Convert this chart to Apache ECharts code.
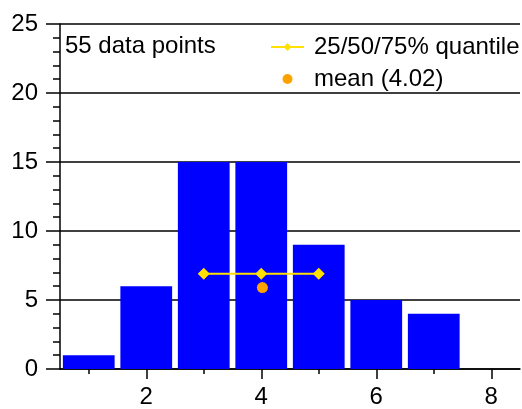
<!DOCTYPE html>
<html>
<head>
<meta charset="utf-8">
<script src="https://cdn.jsdelivr.net/npm/echarts@6/dist/echarts.min.js"></script>
<style>
  html, body { margin: 0; padding: 0; background: #fff; }
  #chart { width: 522px; height: 409px; }
</style>
</head>
<body>
<div id="chart"></div>
<script>
// Histogram bins (bin centres) and counts
const binCenters = ['1', '2', '3', '4', '5', '6', '7', '8'];
const counts = [1, 6, 15, 15, 9, 5, 4, 0];

// Summary statistics drawn over the histogram
const quantileX = [3, 4, 5];          // 25 / 50 / 75 % quantiles
const quantileLevel = 6.9;            // height at which the quantile bar sits
const meanValue = 4.02;
const meanLevel = 5.9;

const pointsLabel = '55 data points';
const quantileName = '25/50/75% quantile';
const meanName = 'mean (4.02)';

const yTicks = { min: 0, max: 25, step: 5 };

const FONT = 'Liberation Sans, Arial, sans-serif';
const FS = 24;

const chart = echarts.init(document.getElementById('chart'), null, { renderer: 'canvas' });

chart.setOption({
  animation: false,
  backgroundColor: '#ffffff',
  textStyle: { fontFamily: FONT },
  title: {
    text: pointsLabel,
    left: 65,
    top: 35,
    padding: 0,
    textStyle: { fontFamily: FONT, fontSize: FS, fontWeight: 'normal', color: '#000', lineHeight: 22 }
  },
  legend: {
    orient: 'vertical',
    left: 270,
    top: 35,
    padding: 0,
    itemGap: 8,
    itemWidth: 33,
    itemHeight: 10,
    textStyle: { fontFamily: FONT, fontSize: FS, color: '#000', lineHeight: 22, padding: [0, 0, 0, 5] },
    data: [quantileName, meanName]
  },
  grid: { left: 60, right: 2, top: 24, bottom: 39, containLabel: false },
  xAxis: [
    {
      // bin axis: bars, short ticks at every bin centre
      type: 'category',
      data: binCenters,
      boundaryGap: true,
      axisLine: { show: true, lineStyle: { color: '#000', width: 1.5 } },
      axisTick: { show: true, alignWithLabel: true, length: 5, lineStyle: { color: '#000', width: 1.5 } },
      axisLabel: { show: false },
      splitLine: { show: false }
    },
    {
      // labelled axis: long ticks and labels at even values
      type: 'category',
      data: binCenters,
      boundaryGap: true,
      position: 'bottom',
      axisLine: { show: false },
      axisTick: {
        show: true, alignWithLabel: true, length: 10,
        interval: (i) => i % 2 === 1,
        lineStyle: { color: '#000', width: 1.5 }
      },
      axisLabel: {
        show: true, margin: 16,
        interval: (i) => i % 2 === 1,
        fontFamily: FONT, fontSize: FS, color: '#000'
      },
      splitLine: { show: false }
    },
    {
      // continuous axis over the same range for the statistics overlay
      type: 'value',
      min: 0.5,
      max: 8.5,
      show: false
    }
  ],
  yAxis: {
    type: 'value',
    min: yTicks.min,
    max: yTicks.max,
    interval: yTicks.step,
    axisLine: { show: true, lineStyle: { color: '#000', width: 1.5 } },
    axisTick: { show: true, length: 14, lineStyle: { color: '#000', width: 1.5 } },
    minorTick: { show: true, splitNumber: 5, length: 7, lineStyle: { color: '#000', width: 1.5 } },
    axisLabel: { margin: 22, fontFamily: FONT, fontSize: FS, color: '#000' },
    splitLine: { show: true, lineStyle: { color: '#000', width: 1.5 } }
  },
  series: [
    {
      type: 'bar',
      xAxisIndex: 0,
      data: counts,
      barCategoryGap: '10%',
      itemStyle: { color: '#0000ff' },
      z: 2
    },
    {
      name: quantileName,
      type: 'line',
      xAxisIndex: 2,
      data: quantileX.map(x => [x, quantileLevel]),
      symbol: 'diamond',
      symbolSize: 12,
      lineStyle: { color: '#ffe000', width: 2, opacity: 1 },
      itemStyle: { color: '#ffe000', opacity: 1 },
      z: 5
    },
    {
      name: meanName,
      type: 'scatter',
      xAxisIndex: 2,
      data: [[meanValue, meanLevel]],
      symbol: 'circle',
      symbolSize: 11,
      itemStyle: { color: '#ffa200', opacity: 1 },
      z: 6
    }
  ]
});
</script>
</body>
</html>
